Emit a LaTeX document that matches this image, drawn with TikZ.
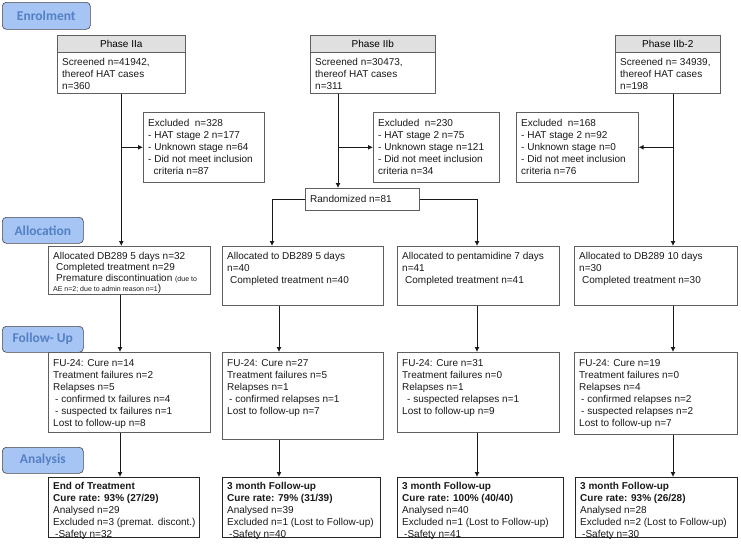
\documentclass[tikz,border=0pt]{standalone}
\usepackage{fontspec}
\setmainfont{Liberation Sans}
\newfontfamily\hdrfont{Carlito}
\usetikzlibrary{arrows.meta}
\definecolor{hdrfill}{RGB}{166,196,244}
\definecolor{hdrtext}{RGB}{84,128,196}
\definecolor{hdrline}{RGB}{70,70,70}
\definecolor{bxline}{RGB}{95,95,95}
\definecolor{phfill}{RGB}{224,224,224}
\definecolor{arrcol}{RGB}{25,25,25}
\newcommand\cbx[8]{%
  \node[#1, anchor=north west, minimum width=#5pt, minimum height=#6pt] (#2) at (#3,#4) {};
  \node[txt, anchor=north west] (#2t) at (#3+5,#4) {\rule{0pt}{#7pt}#8};}
\begin{document}
\begin{tikzpicture}[x=1pt,y=-1pt,
  bx/.style={draw=bxline, line width=0.6pt, inner sep=0},
  bxb/.style={draw=black!85, line width=1.1pt, inner sep=0},
  hdr/.style={draw=hdrline, fill=hdrfill, rounded corners=4pt, line width=0.6pt, text=hdrtext, font=\hdrfont\bfseries\fontsize{13.5}{15}\selectfont, inner sep=0, anchor=north west},
  phh/.style={draw=bxline, fill=phfill, line width=0.6pt, inner sep=0, anchor=north west, font=\fontsize{10}{12}\selectfont},
  txt/.style={inner sep=0, align=left, font=\fontsize{10}{12}\selectfont, text=black!90},
  arr/.style={draw=arrcol, line width=0.9pt, -{Latex[length=5pt,width=5pt]}}]
\useasboundingbox (0,0) rectangle (741,546);

% stage headers
\node[hdr, minimum width=88pt, minimum height=27pt] (hEnr) at (2,2) {Enrolment};
\node[hdr, minimum width=81pt, minimum height=26pt] (hAll) at (2,217) {Allocation};
\node[hdr, minimum width=81pt, minimum height=26pt] (hFol) at (2,326) {Follow- Up};
\node[hdr, minimum width=81pt, minimum height=26pt] (hAna) at (2,447) {Analysis};

% phases
\node[phh, minimum width=128pt, minimum height=17pt] (phAh) at (57,35) {Phase IIa};
\cbx{bx}{phA}{57}{52}{128}{41}{13.5}{Screened n=41942,\\thereof HAT cases\\n=360}
\node[phh, minimum width=125pt, minimum height=17pt] (phBh) at (310,35) {Phase IIb};
\cbx{bx}{phB}{310}{52}{125}{41}{13.5}{Screened n=30473,\\thereof HAT cases\\n=311}
\node[phh, minimum width=105pt, minimum height=17pt] (phCh) at (615,35) {Phase IIb-2};
\cbx{bx}{phC}{615}{52}{105}{41}{13.5}{Screened n= 34939,\\thereof HAT cases\\n=198}

% excluded
\cbx{bx}{exA}{143}{112}{121}{70}{14.5}{Excluded\ \ n=328\\- HAT stage 2 n=177\\- Unknown stage n=64\\- Did not meet inclusion\\\hspace*{5.5pt}criteria n=87}
\cbx{bx}{exB}{373}{112}{126}{70}{14.5}{Excluded\ \ n=230\\- HAT stage 2 n=75\\- Unknown stage n=121\\- Did not meet inclusion\\criteria n=34}
\cbx{bx}{exC}{516}{112}{122}{70}{14.5}{Excluded\ \ n=168\\- HAT stage 2 n=92\\- Unknown stage n=0\\- Did not meet inclusion\\criteria n=76}

% randomized
\cbx{bx}{rnd}{305}{188}{114}{22}{14.5}{Randomized n=81}

% allocation
\cbx{bx}{alA}{48}{246}{162}{48}{13.5}{Allocated DB289 5 days n=32\\[-1pt]\hspace*{3pt}Completed treatment n=29\\[-1pt]\hspace*{3pt}Premature discontinuation {\fontsize{7}{8}\selectfont (due to}\\[-2pt]{\fontsize{7}{8}\selectfont AE n=2; due to admin reason n=1})}
\cbx{bx}{alB}{222}{246}{161}{59}{13.5}{Allocated to DB289 5 days\\n=40\\\hspace*{3pt}Completed treatment n=40}
\cbx{bx}{alC}{397}{246}{162}{59}{13.5}{Allocated to pentamidine 7 days\\n=41\\\hspace*{3pt}Completed treatment n=41}
\cbx{bx}{alD}{574}{246}{163}{59}{13.5}{Allocated to DB289 10 days\\n=30\\\hspace*{3pt}Completed treatment n=30}

% follow-up
\cbx{bx}{fuA}{48}{352}{162}{80}{14}{FU-24: Cure n=14\\Treatment failures n=2\\Relapses n=5\\\hspace*{2pt}- confirmed tx failures n=4\\\hspace*{2pt}- suspected tx failures n=1\\Lost to follow-up n=8}
\cbx{bx}{fuB}{222}{352}{161}{87}{14}{FU-24: Cure n=27\\Treatment failures n=5\\Relapses n=1\\\hspace*{2pt}- confirmed relapses n=1\\Lost to follow-up n=7}
\cbx{bx}{fuC}{397}{352}{162}{80}{14}{FU-24: Cure n=31\\Treatment failures n=0\\Relapses n=1\\\hspace*{5pt}- suspected relapses n=1\\Lost to follow-up n=9}
\cbx{bx}{fuD}{574}{352}{163}{82}{14}{FU-24: Cure n=19\\Treatment failures n=0\\Relapses n=4\\\hspace*{2pt}- confirmed relapses n=2\\\hspace*{2pt}- suspected relapses n=2\\Lost to follow-up n=7}

% analysis
\cbx{bxb}{anA}{48}{477}{151}{60}{12.5}{\textbf{End of Treatment}\\\textbf{Cure rate: 93\% (27/29)}\\Analysed n=29\\Excluded n=3 (premat. discont.)\\\hspace*{2pt}-Safety n=32}
\cbx{bxb}{anB}{222}{477}{158}{60}{12.5}{\textbf{3 month Follow-up}\\\textbf{Cure rate: 79\% (31/39)}\\Analysed n=39\\Excluded n=1 (Lost to Follow-up)\\\hspace*{2pt}-Safety n=40}
\cbx{bxb}{anC}{397}{477}{166}{60}{12.5}{\textbf{3 month Follow-up}\\\textbf{Cure rate: 100\% (40/40)}\\Analysed n=40\\Excluded n=1 (Lost to Follow-up)\\\hspace*{2pt}-Safety n=41}
\cbx{bxb}{anD}{575}{477}{162}{60}{12.5}{\textbf{3 month Follow-up}\\\textbf{Cure rate: 93\% (26/28)}\\Analysed n=28\\Excluded n=2 (Lost to Follow-up)\\\hspace*{2pt}-Safety n=30}

% connectors: enrolment
\draw[arr] (phA.south) -- (phA.south |- alA.north);
\draw[arr] (phA.south |- exA.west) -- (exA.west);
\coordinate (bT) at ([xshift=28pt]phB.south west);
\draw[arr] (bT) -- (bT |- rnd.north);
\draw[arr] (bT |- exB.west) -- (exB.west);
\coordinate (cT) at ([xshift=58pt]phC.south west);
\draw[arr] (cT) -- (cT |- alD.north);
\draw[arr] (cT |- exC.east) -- (exC.east);
\coordinate (rL) at ([xshift=50pt]alB.north west);
\coordinate (rR) at ([xshift=80pt]alC.north west);
\draw[arr] (rnd.west) -| (rL);
\draw[arr] (rnd.east) -| (rR);

% connectors: follow-up and analysis
\foreach \nm/\dx in {A/72,B/57,C/80,D/99} {
  \coordinate (a\nm) at ([xshift=\dx pt]al\nm.south west);
  \draw[arr] (a\nm) -- (a\nm |- fu\nm.north);
  \coordinate (f\nm) at ([xshift=\dx pt]fu\nm.south west);
  \draw[arr] (f\nm) -- (f\nm |- an\nm.north);
}
\end{tikzpicture}
\end{document}
